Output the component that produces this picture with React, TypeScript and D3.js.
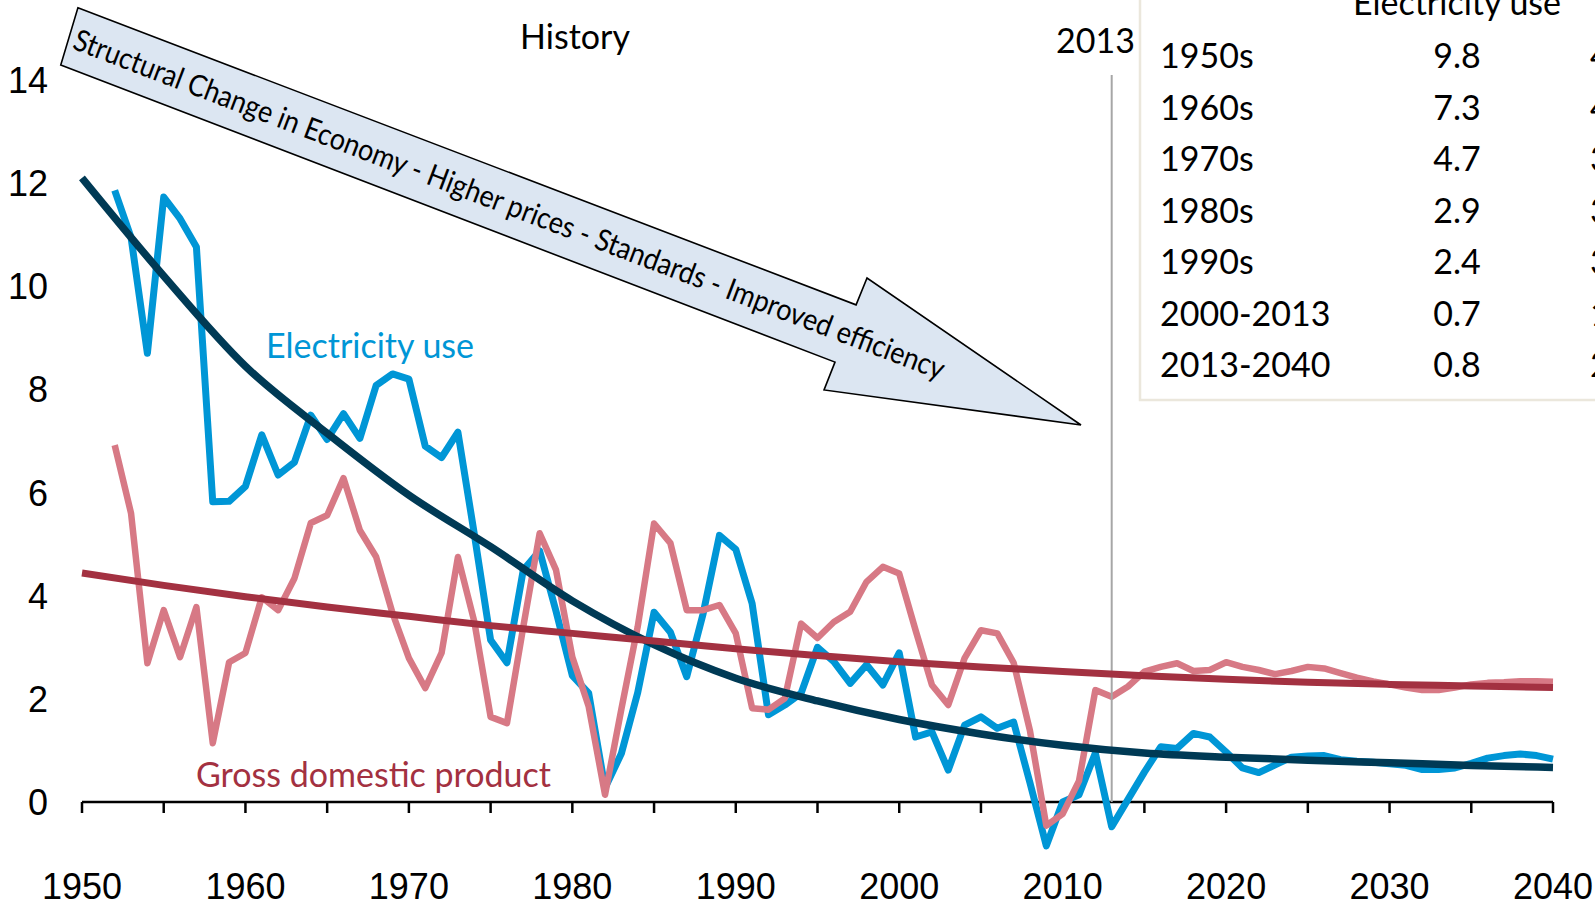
import React from "react";
import * as d3 from "d3";

const W = 1595;
const H = 909;

// ---- data ----
const seriesStartYear = 1952;
const electricityUse = [
  11.86, 10.95, 8.7, 11.73, 11.31, 10.76, 5.82, 5.83, 6.12, 7.12,
  6.34, 6.59, 7.5, 7.03, 7.53, 7.05, 8.08, 8.3, 8.2, 6.9,
  6.68, 7.17, 5.2, 3.14, 2.7, 4.5, 4.87, 3.7, 2.45, 2.11,
  0.27, 0.94, 2.12, 3.68, 3.29, 2.43, 3.65, 5.17, 4.9, 3.85,
  1.69, 1.88, 2.11, 3.0, 2.72, 2.3, 2.66, 2.27, 2.89, 1.26,
  1.36, 0.62, 1.49, 1.65, 1.43, 1.55, 0.37, -0.85, 0.0, 0.14,
  0.95, -0.48, 0.05, 0.58, 1.07, 1.04, 1.33, 1.26, 0.97, 0.66,
  0.57, 0.72, 0.87, 0.89, 0.9, 0.82, 0.79, 0.77, 0.74, 0.71,
  0.63, 0.63, 0.66, 0.75, 0.85, 0.9, 0.93, 0.9, 0.83,
];
const gdp = [
  6.92, 5.6, 2.69, 3.72, 2.81, 3.78, 1.14, 2.71, 2.89, 3.97,
  3.72, 4.34, 5.41, 5.56, 6.28, 5.27, 4.75, 3.66, 2.79, 2.21,
  2.89, 4.75, 3.5, 1.65, 1.53, 3.4, 5.21, 4.5, 2.81, 1.85,
  0.14, 1.8, 3.4, 5.4, 5.02, 3.72, 3.72, 3.82, 3.27, 1.82,
  1.79, 2.01, 3.46, 3.18, 3.49, 3.69, 4.27, 4.56, 4.43, 3.33,
  2.27, 1.88, 2.79, 3.33, 3.27, 2.7, 1.38, -0.46, -0.23, 0.41,
  2.17, 2.04, 2.24, 2.53, 2.62, 2.69, 2.54, 2.56, 2.71, 2.62,
  2.56, 2.48, 2.54, 2.62, 2.59, 2.5, 2.41, 2.34, 2.28, 2.22,
  2.17, 2.17, 2.22, 2.28, 2.31, 2.32, 2.34, 2.34, 2.33,
];
const trendYears = [1950, 1955, 1960, 1965, 1970, 1975, 1980, 1985, 1990, 1995, 2000, 2005, 2010, 2015, 2020, 2025, 2030, 2035, 2040];
const electricityTrend = [12.1, 10.2, 8.45, 7.15, 5.95, 4.95, 3.9, 3.05, 2.4, 1.96, 1.6, 1.32, 1.1, 0.95, 0.87, 0.81, 0.76, 0.71, 0.67];
const gdpTrend = [4.44, 4.2, 3.98, 3.78, 3.6, 3.42, 3.27, 3.12, 2.97, 2.84, 2.72, 2.62, 2.53, 2.45, 2.38, 2.32, 2.28, 2.25, 2.22];

const yTicks = [0, 2, 4, 6, 8, 10, 12, 14];
const xLabelYears = [1950, 1960, 1970, 1980, 1990, 2000, 2010, 2020, 2030, 2040];
const xTickYears = d3.range(1950, 2041, 5);
const markerYear = 2013;

const periods = ["1950s", "1960s", "1970s", "1980s", "1990s", "2000-2013", "2013-2040"];
const electricityGrowth = ["9.8", "7.3", "4.7", "2.9", "2.4", "0.7", "0.8"];
const gdpGrowth = ["4.2", "4.4", "3.2", "3.1", "3.2", "1.8", "2.4"];

const arrowText = "Structural Change in Economy - Higher prices - Standards - Improved efficiency";

// ---- styles ----
const C_BLUE = "#0096d6";
const C_PINK = "#d77985";
const C_NAVY = "#003a55";
const C_RED = "#a33141";
const AXIS_FONT = "'Liberation Sans', Arial, sans-serif";
const TEXT_FONT = "Lato, 'Open Sans', sans-serif";

export default function App() {
  const x = d3.scaleLinear().domain([1950, 2040]).range([82, 1553]);
  const y = d3.scaleLinear().domain([0, 14]).range([802, 80]);

  const toPts = (vals: number[], start: number) =>
    vals.map((v, i) => ({ year: start + i, v }));
  const elecPts = toPts(electricityUse, seriesStartYear);
  const gdpPts = toPts(gdp, seriesStartYear);
  const elecTrendPts = trendYears.map((yr, i) => ({ year: yr, v: electricityTrend[i] }));
  const gdpTrendPts = trendYears.map((yr, i) => ({ year: yr, v: gdpTrend[i] }));

  const line = d3
    .line<{ year: number; v: number }>()
    .x((d) => x(d.year))
    .y((d) => y(d.v));
  const smooth = d3
    .line<{ year: number; v: number }>()
    .x((d) => x(d.year))
    .y((d) => y(d.v))
    .curve(d3.curveMonotoneX);

  // arrow annotation defined in data space
  const arrowDef: [number, number][] = [
    [1949.75, 15.4], // top-left
    [1997.36, 9.64], // top notch
    [1998.03, 10.16], // top barb
    [2011.12, 7.31], // tip
    [1995.4, 7.99], // bottom barb
    [1996.07, 8.53], // bottom notch
    [1948.7, 14.29], // bottom-left
  ];
  const arrowPx = arrowDef.map(([yr, v]) => [x(yr), y(v)] as [number, number]);
  const arrowPath = "M" + arrowPx.map((p) => p.join(",")).join("L") + "Z";
  const [tl, tn] = [arrowPx[0], arrowPx[1]];
  const bl = arrowPx[6];
  const angle = (Math.atan2(tn[1] - tl[1], tn[0] - tl[0]) * 180) / Math.PI;
  const ux = Math.cos((angle * Math.PI) / 180);
  const uy = Math.sin((angle * Math.PI) / 180);
  const ox = (tl[0] + bl[0]) / 2;
  const oy = (tl[1] + bl[1]) / 2;
  const tx = ox + ux * 6 - uy * 10.5;
  const ty = oy + uy * 6 + ux * 10.5;

  const rowY0 = 68;
  const rowStep = 51.5;

  return (
    <svg
      width={W}
      height={H}
      style={{ position: "absolute", left: 0, top: 0, background: "#fff" }}
    >
      <rect x={0} y={0} width={W} height={H} fill="#fff" />

      {/* table box */}
      <rect x={1140} y={-10} width={520} height={410} fill="#fff" stroke="#ebe7dc" strokeWidth={2.5} />
      <text x={1457} y={15} fontFamily={TEXT_FONT} fontSize={34} textAnchor="middle" fill="#000">
        Electricity use
      </text>
      {periods.map((p, i) => (
        <g key={p}>
          <text x={1160} y={rowY0 + i * rowStep} fontFamily={TEXT_FONT} fontSize={34} fill="#000">
            {p}
          </text>
          <text x={1457} y={rowY0 + i * rowStep} fontFamily={TEXT_FONT} fontSize={34} textAnchor="middle" fill="#000">
            {electricityGrowth[i]}
          </text>
          <text x={1590} y={rowY0 + i * rowStep} fontFamily={TEXT_FONT} fontSize={34} fill="#000">
            {gdpGrowth[i]}
          </text>
        </g>
      ))}

      {/* arrow annotation */}
      <path d={arrowPath} fill="#dce6f2" stroke="#000" strokeWidth={1.6} strokeLinejoin="miter" />
      <text
        x={tx}
        y={ty}
        transform={`rotate(${angle} ${tx} ${ty})`}
        fontFamily={TEXT_FONT}
        fontSize={30}
        textLength={930}
        lengthAdjust="spacingAndGlyphs"
        fill="#000"
      >
        {arrowText}
      </text>

      {/* labels */}
      <text x={575} y={49} fontFamily={TEXT_FONT} fontSize={34} textAnchor="middle" fill="#000">
        History
      </text>
      <text x={1135} y={53} fontFamily={TEXT_FONT} fontSize={34} textAnchor="end" fill="#000">
        {markerYear}
      </text>

      {/* y tick labels */}
      {yTicks.map((t) => (
        <text key={t} x={48} y={y(t) + 13} fontFamily={AXIS_FONT} fontSize={36} textAnchor="end" fill="#000">
          {t}
        </text>
      ))}

      {/* x axis */}
      <line x1={x(1950)} x2={x(2040)} y1={y(0)} y2={y(0)} stroke="#000" strokeWidth={2.5} />
      {xTickYears.map((yr) => (
        <line key={yr} x1={x(yr)} x2={x(yr)} y1={y(0)} y2={y(0) + 11} stroke="#000" strokeWidth={2.5} />
      ))}
      {xLabelYears.map((yr) => (
        <text key={yr} x={x(yr)} y={899} fontFamily={AXIS_FONT} fontSize={36} textAnchor="middle" fill="#000">
          {yr}
        </text>
      ))}

      {/* series */}
      <path d={line(elecPts) || ""} fill="none" stroke={C_BLUE} strokeWidth={7} strokeLinejoin="round" />
      <path d={line(gdpPts) || ""} fill="none" stroke={C_PINK} strokeWidth={6.5} strokeLinejoin="round" />

      {/* 2013 marker */}
      <line x1={x(markerYear)} x2={x(markerYear)} y1={75} y2={y(0)} stroke="#a6a6a6" strokeWidth={2} />

      {/* trends */}
      <path d={smooth(elecTrendPts) || ""} fill="none" stroke={C_NAVY} strokeWidth={7.5} />
      <path d={smooth(gdpTrendPts) || ""} fill="none" stroke={C_RED} strokeWidth={7} />

      {/* series labels */}
      <text x={266} y={358} fontFamily={TEXT_FONT} fontSize={34} fill={C_BLUE}>
        Electricity use
      </text>
      <text x={196} y={787} fontFamily={TEXT_FONT} fontSize={34} fill={C_RED}>
        Gross domestic product
      </text>
    </svg>
  );
}
